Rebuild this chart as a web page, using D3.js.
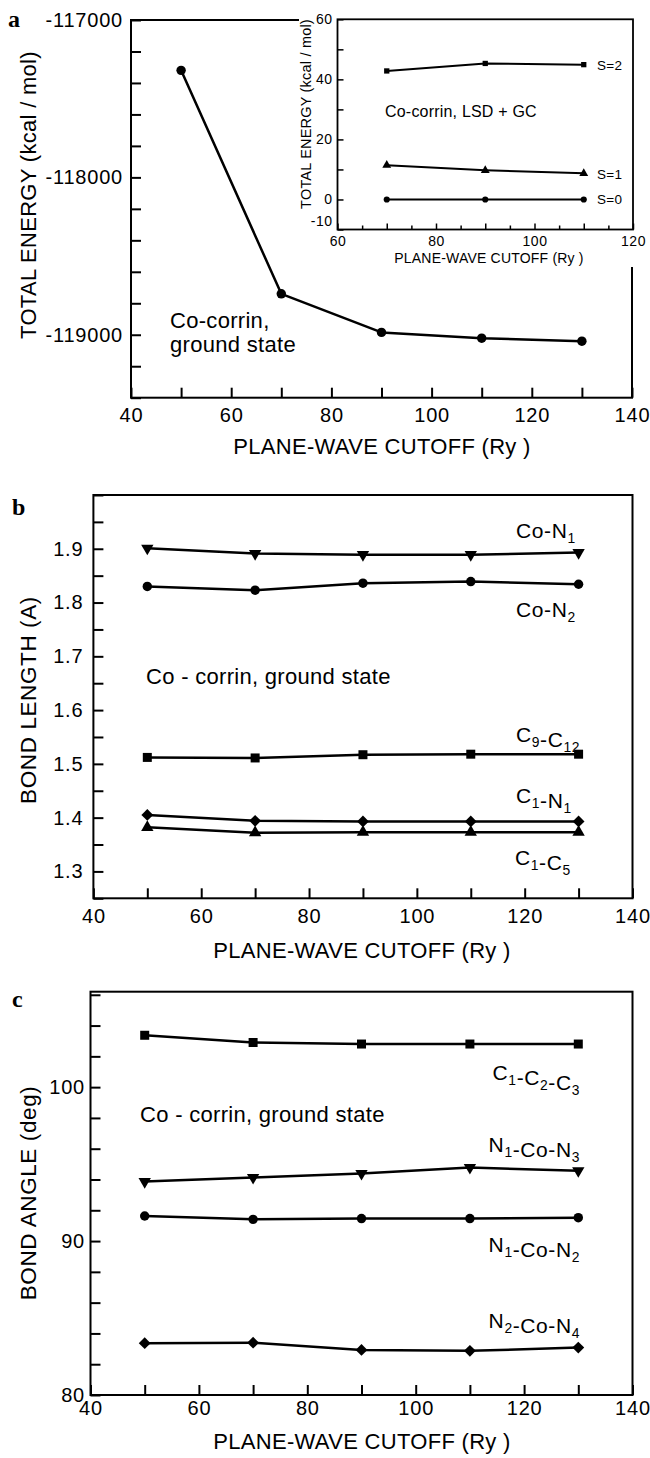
<!DOCTYPE html>
<html>
<head>
<meta charset="utf-8">
<script src="https://cdn.jsdelivr.net/npm/d3@7"></script>
<style>
  body { margin: 0; background: #fff; }
  svg { display: block; }
</style>
</head>
<body>
<div id="chart"></div>
<script>
// cutoff values shared by the three panels (Ry)
const cutoffs = [50, 70, 90, 110, 130];

// panel a: total energy, ground state (kcal/mol)
const totalEnergy = [-117320, -118740, -118985, -119022, -119041];

// panel a inset: spin states relative to S=0
const insetCutoffs = [70, 90, 110];
const insetNames = ['S=2', 'S=1', 'S=0'];
const energyS2 = [42.8, 45.3, 44.9];
const energyS1 = [11.4, 9.7, 8.7];
const energyS0 = [0, 0, 0];

// panel b: bond lengths (A)
const bondNames = ['Co-N_1', 'Co-N_2', 'C_9-C_12', 'C_1-N_1', 'C_1-C_5'];
const bondCoN1 = [1.901, 1.891, 1.889, 1.889, 1.893];
const bondCoN2 = [1.830, 1.823, 1.836, 1.839, 1.834];
const bondC9C12 = [1.512, 1.511, 1.517, 1.518, 1.518];
const bondC1N1 = [1.405, 1.394, 1.393, 1.393, 1.393];
const bondC1C5 = [1.382, 1.372, 1.373, 1.373, 1.373];

// panel c: bond angles (deg)
const angleNames = ['C_1-C_2-C_3', 'N_1-Co-N_3', 'N_1-Co-N_2', 'N_2-Co-N_4'];
const angleC1C2C3 = [103.37, 102.9, 102.8, 102.8, 102.8];
const angleN1CoN3 = [93.87, 94.13, 94.39, 94.78, 94.57];
const angleN1CoN2 = [91.63, 91.41, 91.46, 91.46, 91.52];
const angleN2CoN4 = [83.37, 83.4, 82.93, 82.87, 83.08];

// tick labels
const cutoffTicks = [40, 60, 80, 100, 120, 140];
const insetCutoffTicks = [60, 80, 100, 120];
const energyTicks = [-119000, -118000, -117000];
const insetEnergyTicks = [-10, 0, 20, 40, 60];
const bondTicks = [1.3, 1.4, 1.5, 1.6, 1.7, 1.8, 1.9];
const angleTicks = [80, 90, 100];

const sans = '"Liberation Sans", Arial, Helvetica, sans-serif';
const serif = '"Liberation Serif", "Times New Roman", serif';

const svg = d3.select('#chart')
	.append('svg')
	.attr('width', 650)
	.attr('height', 1458);

const steps = (a, b, s) => d3.range(a, b + s / 2, s).map((v) => +v.toFixed(4));
const inList = (list, v) => list.some((t) => Math.abs(t - v) < 1e-6);

// draws one set of axes (box, ticks inward, labels)
function drawAxes(o) {
	const x = d3.scaleLinear().domain(o.xDomain).range([o.left, o.right]);
	const y = d3.scaleLinear().domain(o.yDomain).range([o.bottom, o.top]);

	const xa = svg.append('g')
		.attr('transform', `translate(0, ${o.bottom})`)
		.call(d3.axisBottom(x)
			.tickValues(o.xTicks)
			.tickSize(-o.tick)
			.tickPadding(o.xPad)
			.tickFormat((d) => inList(o.xLabels, d) ? String(d) : ''));
	const ya = svg.append('g')
		.attr('transform', `translate(${o.left}, 0)`)
		.call(d3.axisLeft(y)
			.tickValues(o.yTicks)
			.tickSize(-o.tick)
			.tickPadding(o.yPad)
			.tickFormat((d) => inList(o.yLabels, d) ? o.yFmt(d) : ''));

	[xa, ya].forEach((a) => {
		a.select('.domain').remove();
		a.selectAll('line').attr('stroke', '#000').attr('stroke-width', o.tickWidth);
		a.selectAll('text')
			.attr('fill', '#000')
			.style('font-family', sans)
			.style('font-size', o.fs + 'px')
			.style('letter-spacing', o.ls + 'px');
	});

	// lowest y label sits a little above its tick (as in the inset)
	if (o.lowRaise) {
		ya.selectAll('.tick text')
			.filter((d) => Math.abs(d - o.yDomain[0]) < 1e-6)
			.attr('y', -o.lowRaise);
	}

	if (o.minorX) {
		svg.append('g')
			.attr('transform', `translate(0, ${o.bottom})`)
			.call(d3.axisBottom(x).tickValues(o.minorX).tickSize(-o.minorTick).tickFormat(''))
			.call((g) => g.select('.domain').remove())
			.selectAll('line').attr('stroke', '#000').attr('stroke-width', o.tickWidth);
	}

	svg.append('rect')
		.attr('x', o.left)
		.attr('y', o.top)
		.attr('width', o.right - o.left)
		.attr('height', o.bottom - o.top)
		.attr('fill', 'none')
		.attr('stroke', '#000')
		.attr('stroke-width', o.frame);

	return { x, y };
}

function drawSeries(sc, xs, ys, symbol, size, rotate, width) {
	const pts = xs.map((v, i) => [v, ys[i]]);
	svg.append('path')
		.datum(pts)
		.attr('fill', 'none')
		.attr('stroke', '#000')
		.attr('stroke-width', width)
		.attr('stroke-linejoin', 'round')
		.attr('d', d3.line().x((d) => sc.x(d[0])).y((d) => sc.y(d[1])));
	svg.append('g')
		.selectAll('path')
		.data(pts)
		.join('path')
		.attr('transform', (d) => `translate(${sc.x(d[0])}, ${sc.y(d[1])}) rotate(${rotate})`)
		.attr('d', d3.symbol().type(symbol).size(size))
		.attr('fill', '#000');
}

// text with "_n" subscripts
function subLabel(x, y, label, anchor, fs) {
	const t = svg.append('text')
		.attr('x', x)
		.attr('y', y)
		.attr('text-anchor', anchor)
		.style('font-family', sans)
		.style('font-size', fs + 'px')
		.style('letter-spacing', '0.6px');
	const parts = label.split(/_(\d+)/);
	parts.forEach((p, i) => {
		if (!p) return;
		if (i % 2 === 1) {
			t.append('tspan').attr('dy', 5).style('font-size', (fs * 0.66) + 'px').text(p);
			t.append('tspan').attr('dy', -5).text('');
		} else {
			t.append('tspan').text(p);
		}
	});
}

function plainText(x, y, str, fs, opts = {}) {
	return svg.append('text')
		.attr('x', x)
		.attr('y', y)
		.attr('text-anchor', opts.anchor || 'start')
		.attr('transform', opts.rotate ? `rotate(-90, ${x}, ${y})` : null)
		.style('font-family', opts.family || sans)
		.style('font-size', fs + 'px')
		.style('font-weight', opts.weight || 'normal')
		.style('letter-spacing', (opts.ls || 0) + 'px')
		.text(str);
}

// ---------- panel a ----------
const scA = drawAxes({
	left: 131, right: 632, top: 20, bottom: 397.7,
	xDomain: [40, 140], yDomain: [-119400, -117000],
	xTicks: steps(40, 140, 10), yTicks: steps(-119400, -117000, 200),
	xLabels: cutoffTicks, yLabels: energyTicks, yFmt: (d) => String(d),
	tick: 10, xPad: 10, yPad: 8, fs: 20, ls: 0.8, tickWidth: 2, frame: 2
});
drawSeries(scA, cutoffs, totalEnergy, d3.symbolCircle, 70, 0, 2.5);

plainText(170, 328, 'Co-corrin,', 22, { ls: 0.3 });
plainText(170, 352, 'ground state', 22, { ls: 0.3 });
plainText(8, 27, 'a', 24, { family: serif, weight: 'bold' });
plainText(36, 195, 'TOTAL ENERGY (kcal / mol)', 22, { rotate: true, anchor: 'middle', ls: 0.3 });
plainText(382, 454, 'PLANE-WAVE CUTOFF (Ry )', 22, { anchor: 'middle', ls: 0.3 });

// inset, drawn over the main frame
svg.append('rect')
	.attr('x', 299).attr('y', 0)
	.attr('width', 351).attr('height', 267)
	.attr('fill', '#fff');

const scI = drawAxes({
	left: 337.5, right: 633, top: 19.3, bottom: 229.5,
	xDomain: [60, 120], yDomain: [-10, 60],
	xTicks: steps(60, 120, 10), yTicks: steps(-10, 60, 10),
	minorX: steps(65, 115, 10), minorTick: 4,
	xLabels: insetCutoffTicks, yLabels: insetEnergyTicks, yFmt: (d) => String(d),
	tick: 6, xPad: 7, yPad: 5, fs: 14, ls: 0.5, tickWidth: 1.5, frame: 1.8,
	lowRaise: 8
});
drawSeries(scI, insetCutoffs, energyS2, d3.symbolSquare, 28, 0, 2);
drawSeries(scI, insetCutoffs, energyS1, d3.symbolTriangle, 34, 0, 2);
drawSeries(scI, insetCutoffs, energyS0, d3.symbolCircle, 30, 0, 2);

plainText(597, 70, insetNames[0], 13.5, { ls: 0.3 });
plainText(597, 178.5, insetNames[1], 13.5, { ls: 0.3 });
plainText(597, 204, insetNames[2], 13.5, { ls: 0.3 });
plainText(385, 116.7, 'Co-corrin, LSD + GC', 16, { ls: 0.2 });
plainText(311, 114, 'TOTAL ENERGY (kcal / mol)', 14.5, { rotate: true, anchor: 'middle', ls: 0.2 });
plainText(489, 263, 'PLANE-WAVE CUTOFF (Ry )', 14, { anchor: 'middle', ls: 0.2 });

// ---------- panel b ----------
const scB = drawAxes({
	left: 93.4, right: 632.5, top: 495, bottom: 898.3,
	xDomain: [40, 140], yDomain: [1.25, 2.0],
	xTicks: steps(40, 140, 10), yTicks: steps(1.25, 2.0, 0.05),
	xLabels: cutoffTicks, yLabels: bondTicks, yFmt: (d) => d.toFixed(1),
	tick: 10, xPad: 10.5, yPad: 10, fs: 20, ls: 0.8, tickWidth: 2, frame: 2
});
drawSeries(scB, cutoffs, bondCoN1, d3.symbolTriangle, 66, 180, 2.5);
drawSeries(scB, cutoffs, bondCoN2, d3.symbolCircle, 70, 0, 2.5);
drawSeries(scB, cutoffs, bondC9C12, d3.symbolSquare, 81, 0, 2.5);
drawSeries(scB, cutoffs, bondC1N1, d3.symbolSquare, 70, 45, 2.5);
drawSeries(scB, cutoffs, bondC1C5, d3.symbolTriangle, 66, 0, 2.5);

subLabel(516, 538, bondNames[0], 'start', 21);
subLabel(516, 616.7, bondNames[1], 'start', 21);
subLabel(516, 741.7, bondNames[2], 'start', 21);
subLabel(516, 803, bondNames[3], 'start', 21);
subLabel(515, 865, bondNames[4], 'start', 21);

plainText(146, 684, 'Co - corrin, ground state', 22, { ls: 0.3 });
plainText(12, 515, 'b', 24, { family: serif, weight: 'bold' });
plainText(36, 700, 'BOND LENGTH (A)', 22.5, { rotate: true, anchor: 'middle', ls: 0.6 });
plainText(362, 958, 'PLANE-WAVE CUTOFF (Ry )', 22, { anchor: 'middle', ls: 0.3 });

// ---------- panel c ----------
const scC = drawAxes({
	left: 90.5, right: 632.5, top: 991.7, bottom: 1395,
	xDomain: [40, 140], yDomain: [80, 106.2],
	xTicks: steps(40, 140, 10), yTicks: steps(80, 106, 2),
	xLabels: cutoffTicks, yLabels: angleTicks, yFmt: (d) => String(d),
	tick: 10, xPad: 6, yPad: 5.5, fs: 20, ls: 0.8, tickWidth: 2, frame: 2
});
drawSeries(scC, cutoffs, angleC1C2C3, d3.symbolSquare, 81, 0, 2.5);
drawSeries(scC, cutoffs, angleN1CoN3, d3.symbolTriangle, 66, 180, 2.5);
drawSeries(scC, cutoffs, angleN1CoN2, d3.symbolCircle, 70, 0, 2.5);
drawSeries(scC, cutoffs, angleN2CoN4, d3.symbolSquare, 70, 45, 2.5);

subLabel(580, 1080, angleNames[0], 'end', 21);
subLabel(580, 1151.7, angleNames[1], 'end', 21);
subLabel(580, 1251.7, angleNames[2], 'end', 21);
subLabel(580, 1328, angleNames[3], 'end', 21);

plainText(140, 1121.7, 'Co - corrin, ground state', 22, { ls: 0.3 });
plainText(12, 1007, 'c', 24, { family: serif, weight: 'bold' });
plainText(36, 1193, 'BOND ANGLE (deg)', 22.5, { rotate: true, anchor: 'middle', ls: 0.6 });
plainText(362, 1449, 'PLANE-WAVE CUTOFF (Ry )', 22, { anchor: 'middle', ls: 0.3 });
</script>
</body>
</html>
